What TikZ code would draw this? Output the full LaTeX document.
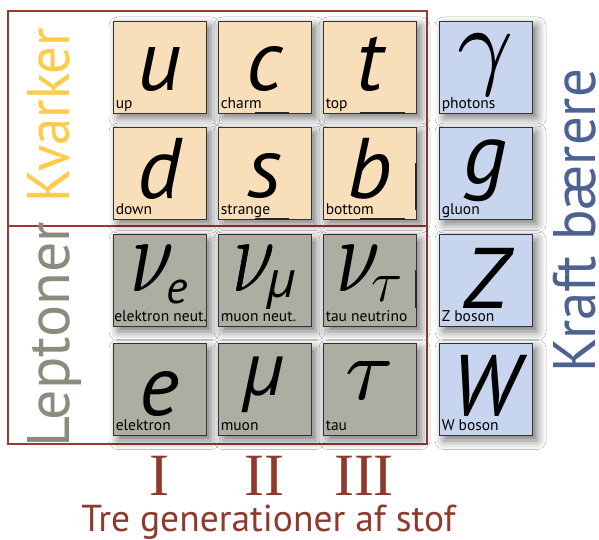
\RequirePackage{fix-cm}
\documentclass[tikz,border=0pt]{standalone}
\usepackage{fontspec}
\setmainfont{PT Sans}
\newfontfamily\grkfont{Open Sans}
\newfontfamily\serifgrk{Liberation Serif}
\usetikzlibrary{shadows.blur}
\definecolor{qfill}{HTML}{F8DEB9}
\definecolor{lfill}{HTML}{ADADA2}
\definecolor{bfill}{HTML}{C7D5EE}
\definecolor{framecol}{HTML}{9A3A2F}
\definecolor{kvcol}{HTML}{FFCC4A}
\definecolor{lepcol}{HTML}{8B8C7E}
\definecolor{kraftcol}{HTML}{4D6290}
\definecolor{gencol}{HTML}{8F3A2C}
\definecolor{edgecol}{HTML}{333333}
\newcommand{\heavy}[1]{\rlap{#1}\kern1.2pt#1}
\newcommand{\bignu}{\scalebox{0.74}[1]{\heavy{$\nu$}}}
\begin{document}
\begin{tikzpicture}[x=1pt,y=-1pt,
  pbox/.style={draw=edgecol, line width=0.9pt, minimum width=93pt, minimum height=92pt, inner sep=0pt,
     blur shadow={shadow xshift=5pt, shadow yshift=-5pt, shadow blur radius=9pt, shadow opacity=55}},
  quark/.style={pbox, fill=qfill},
  lepton/.style={pbox, fill=lfill},
  boson/.style={pbox, fill=bfill},
  sym/.style={anchor=base, inner sep=0pt, font=\fontsize{86}{86}\selectfont\itshape},
  gsym/.style={anchor=base, inner sep=0pt},
  lbl/.style={anchor=base west, inner sep=0pt, font=\fontsize{15.5}{16}\selectfont},
  bigtitle/.style={rotate=90, anchor=base, inner sep=0pt, font=\fontsize{60}{60}\selectfont},
  roman/.style={anchor=base, inner sep=0pt, text=gencol, font=\fontsize{60}{60}\selectfont\serifgrk},
  bar/.style={line width=2pt, black!85}
]
\useasboundingbox (0,0) rectangle (599,540);
\fill[white] (0,0) rectangle (599,540);

% frame
\draw[framecol, line width=1.2pt] (8,11) rectangle (427,444);
\draw[framecol, line width=1.2pt] (8,226) -- (427,226);

% boxes
\node[quark]  (u) at (159.5,67) {};
\node[quark]  (c) at (264.5,67) {};
\node[quark]  (t) at (369.5,67) {};
\node[boson]  (gam) at (485.5,67) {};
\node[quark]  (d) at (159.5,173) {};
\node[quark]  (s) at (264.5,173) {};
\node[quark]  (b) at (369.5,173) {};
\node[boson]  (g) at (485.5,173) {};
\node[lepton] (ne) at (159.5,280.5) {};
\node[lepton] (nm) at (264.5,280.5) {};
\node[lepton] (nt) at (369.5,280.5) {};
\node[boson]  (Z) at (485.5,280.5) {};
\node[lepton] (e) at (159.5,389.5) {};
\node[lepton] (mu) at (264.5,389.5) {};
\node[lepton] (tau) at (369.5,389.5) {};
\node[boson]  (W) at (485.5,389.5) {};

% symbols
\node[sym] (su) at ([yshift=23pt]u.south) {u};
\node[sym] (sc) at ([yshift=23pt]c.south) {c};
\node[sym] (st) at ([yshift=23pt]t.south) {t};
\node[gsym, font=\fontsize{98}{98}\selectfont] (sgam) at ([yshift=37pt]gam.south) {\heavy{$\gamma$}};
\node[sym] (sd) at ([yshift=21pt]d.south) {d};
\node[sym] (ss) at ([yshift=22pt]s.south) {s};
\node[sym] (sb) at ([yshift=21pt]b.south) {b};
\node[sym] (sg) at ([yshift=36pt]g.south) {g};
\node[gsym, font=\fontsize{106}{106}\selectfont] (sne) at ([yshift=35pt]ne.south) {\bignu\kern-8pt\raisebox{-12pt}{\fontsize{46}{46}\selectfont\itshape e}};
\node[gsym, font=\fontsize{106}{106}\selectfont] (snm) at ([yshift=35pt]nm.south) {\bignu\kern-8pt\raisebox{-6pt}{\fontsize{50}{50}\selectfont\grkfont\itshape μ}};
\node[gsym, font=\fontsize{106}{106}\selectfont] (snt) at ([yshift=35pt]nt.south) {\bignu\kern-9pt\raisebox{-10pt}{\fontsize{58}{58}\selectfont$\tau$}};
\node[sym] (sZ) at ([yshift=18pt]Z.south) {Z};
\node[sym] (se) at ([yshift=20pt]e.south) {e};
\node[sym, font=\fontsize{72}{72}\selectfont\grkfont\itshape] (smu) at ([yshift=40pt]mu.south) {μ};
\node[gsym, font=\fontsize{88}{88}\selectfont] (stau) at ([yshift=36pt]tau.south) {\heavy{$\tau$}};
\node[sym] (sW) at ([yshift=20pt]W.south) {W};

% labels
\node[lbl] at ([xshift=3pt,yshift=5pt]u.south west) {up};
\node[lbl] at ([xshift=3pt,yshift=5pt]c.south west) {charm};
\node[lbl] at ([xshift=3pt,yshift=5pt]t.south west) {top};
\node[lbl] at ([xshift=3pt,yshift=5pt]gam.south west) {photons};
\node[lbl] at ([xshift=3pt,yshift=5pt]d.south west) {down};
\node[lbl] at ([xshift=3pt,yshift=5pt]s.south west) {strange};
\node[lbl] at ([xshift=3pt,yshift=5pt]b.south west) {bottom};
\node[lbl] at ([xshift=3pt,yshift=5pt]g.south west) {gluon};
\node[lbl] at ([xshift=1.5pt,yshift=5pt]ne.south west) {elektron neut.};
\node[lbl] at ([xshift=3pt,yshift=5pt]nm.south west) {muon neut.};
\node[lbl] at ([xshift=3pt,yshift=5pt]nt.south west) {tau neutrino};
\node[lbl] at ([xshift=3pt,yshift=5pt]Z.south west) {Z boson};
\node[lbl] at ([xshift=3pt,yshift=5pt]e.south west) {elektron};
\node[lbl] at ([xshift=3pt,yshift=5pt]mu.south west) {muon};
\node[lbl] at ([xshift=3pt,yshift=5pt]tau.south west) {tau};
\node[lbl] at ([xshift=3pt,yshift=5pt]W.south west) {W boson};

% dark bar artifacts
\draw[bar] (255,113) -- (289,113);
\draw[bar] (360,113) -- (405,113);
\draw[bar] (255,219) -- (289,219);
\draw[bar] (360,219) -- (405,219);
\draw[bar] (416,163) -- (416,210);
\draw[bar] (416,270) -- (416,308);

% titles
\node[bigtitle, text=kvcol] (kv) at (69,115) {\scalebox{0.91}[1]{Kvarker}};
\node[bigtitle, text=lepcol] (lep) at (69,335) {Leptoner};
\node[bigtitle, text=kraftcol] (kraft) at (595.5,221) {\scalebox{0.945}[1]{Kraft bærere}};

% generations
\node[roman] (g1) at (159,495) {I};
\node[roman] (g2) at (264,495) {II};
\node[roman] (g3) at (364,495) {III};
\node[anchor=base, inner sep=0pt, text=gencol, font=\fontsize{37.5}{38}\selectfont] (gen) at (268.5,531) {Tre generationer af stof};
\end{tikzpicture}
\end{document}
